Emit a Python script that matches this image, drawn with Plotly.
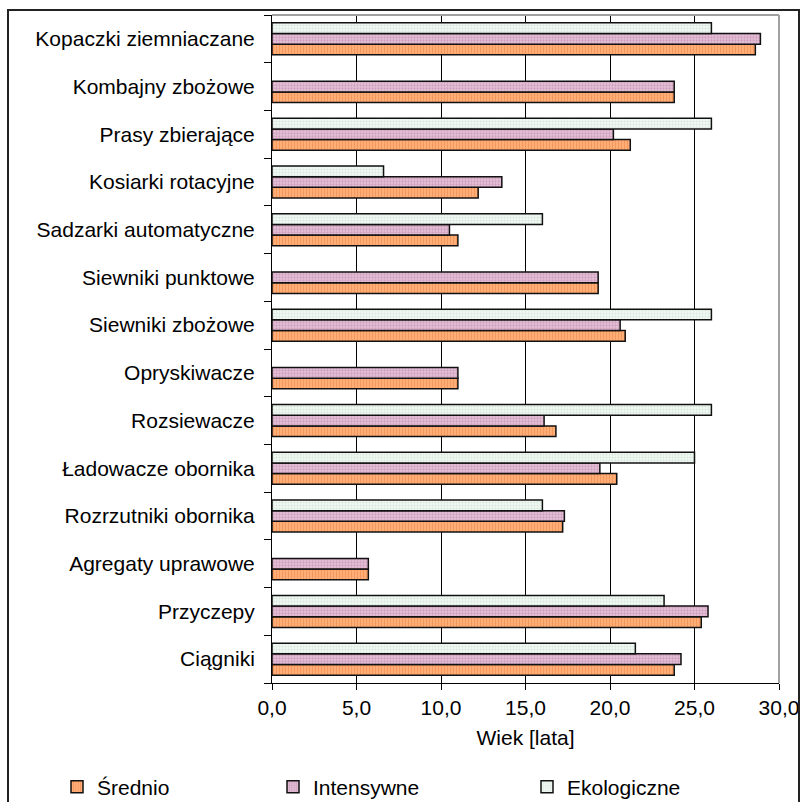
import plotly.graph_objects as go

categories = ["Ciągniki", "Przyczepy", "Agregaty uprawowe", "Rozrzutniki obornika",
              "Ładowacze obornika", "Rozsiewacze", "Opryskiwacze", "Siewniki zbożowe",
              "Siewniki punktowe", "Sadzarki automatyczne", "Kosiarki rotacyjne",
              "Prasy zbierające", "Kombajny zbożowe", "Kopaczki ziemniaczane"]
srednio = [23.8, 25.4, 5.7, 17.2, 20.4, 16.8, 11.0, 20.9, 19.3, 11.0, 12.2, 21.2, 23.8, 28.6]
intensywne = [24.2, 25.8, 5.7, 17.3, 19.4, 16.1, 11.0, 20.6, 19.3, 10.5, 13.6, 20.2, 23.8, 28.9]
ekologiczne = [21.5, 23.2, None, 16.0, 25.0, 26.0, None, 26.0, None, 16.0, 6.6, 26.0, None, 26.0]
x_ticks = [0, 5, 10, 15, 20, 25, 30]

FONT = "Liberation Sans, Arial, sans-serif"
W, H = 802, 802
L, R, T, B = 272, 23, 15, 119
pw, ph = W - L - R, H - T - B

def px_x(p):
    return (p - L) / pw

def px_y(p):
    return (H - B - p) / ph

series = [
    ("Średnio", srednio, dict(shape="|", bgcolor="#FFAE78", fgcolor="#EE8040", size=3, solidity=0.35), "legend", 76),
    ("Intensywne", intensywne, dict(shape=".", bgcolor="#E6C2D8", fgcolor="#B47CA0", size=3, solidity=0.45), "legend2", 292),
    ("Ekologiczne", ekologiczne, dict(shape=".", bgcolor="#F3F9F5", fgcolor="#B4D8C2", size=3, solidity=0.4), "legend3", 546),
]

fig = go.Figure()
legends = {}
for name, vals, pat, lg, lx in series:
    fig.add_trace(go.Bar(
        y=categories, x=vals, name=name, orientation="h",
        marker=dict(color=pat["bgcolor"], pattern=pat, line=dict(color="#111111", width=1.5)),
        legend=lg, showlegend=True,
    ))
    legends[lg] = dict(orientation="h", xref="container", yref="container",
                       x=(lx - 19) / W, y=(H - 787) / H,
                       yanchor="middle", xanchor="left",
                       font=dict(family=FONT, size=21, color="#000000"),
                       bgcolor="rgba(0,0,0,0)", borderwidth=0)

fig.update_layout(
    width=W, height=H,
    showlegend=True,
    margin=dict(l=L, r=R, t=T, b=B, pad=0, autoexpand=False),
    paper_bgcolor="white", plot_bgcolor="white",
    barmode="group", bargap=0.33, bargroupgap=0,
    separators=", ",
    font=dict(family=FONT, size=21, color="#000000"),
    **legends,
    xaxis=dict(range=[0, 30], tickvals=x_ticks, tickformat=".1f",
               showgrid=True, gridcolor="#000000", gridwidth=1,
               showline=True, linecolor="#000000", linewidth=1,
               ticks="outside", ticklen=6, tickcolor="#000000",
               tickfont=dict(family=FONT, size=21),
               title=dict(text="Wiek [lata]", font=dict(family=FONT, size=21), standoff=12),
               zeroline=False, fixedrange=True),
    yaxis=dict(type="category", categoryorder="array", categoryarray=categories,
               showline=True, linecolor="#000000", linewidth=1,
               ticks="outside", ticklen=7, tickcolor="#000000", tickson="boundaries",
               tickfont=dict(family=FONT, size=21), showgrid=False,
               ticklabelstandoff=12, fixedrange=True),
    shapes=[
        dict(type="line", xref="paper", yref="paper", x0=0, x1=1, y0=1, y1=1,
             line=dict(color="#A0A0A0", width=2), layer="above"),
        dict(type="line", xref="paper", yref="paper", x0=1, x1=1, y0=0, y1=1,
             line=dict(color="#A0A0A0", width=2), layer="above"),
        dict(type="rect", xref="paper", yref="paper",
             x0=px_x(8), x1=px_x(799), y0=px_y(806), y1=px_y(10),
             line=dict(color="#222222", width=2), fillcolor="rgba(0,0,0,0)", layer="above"),
    ],
)

fig.write_html("out.html", config={"displayModeBar": False},
               post_script="document.body.style.margin='0';document.body.style.overflow='hidden';")
